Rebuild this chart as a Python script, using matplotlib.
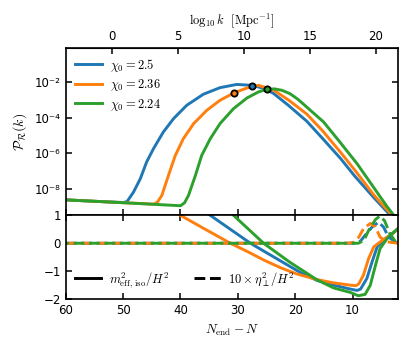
import numpy as np
import matplotlib
matplotlib.use("Agg")
import matplotlib.pyplot as plt

plt.rcParams["mathtext.fontset"] = "cm"
plt.rcParams["font.size"] = 8.5

# ---------------------------------------------------------------------------
# Data (x = N_end - N)
# ---------------------------------------------------------------------------
labels = [r"$\chi_0 = 2.5$", r"$\chi_0 = 2.36$", r"$\chi_0 = 2.24$"]
colors = ["#1f77b4", "#ff7f0e", "#2ca02c"]

# power spectrum, log10 P_R
blue_N = [60, 55, 49.9, 49.3, 48.2, 47.0, 45.9, 44.7, 43.0, 41.2, 38.9, 36.0,
          33.1, 30.2, 27.5, 25.5, 23.8, 21.2, 18.0, 15.3, 12.1, 9.6, 6.3,
          3.4, 2.0]
blue_logP = [-8.63, -8.71, -8.78, -8.72, -8.2, -7.44, -6.5, -5.75, -4.82, -4.06,
             -3.31, -2.69, -2.32, -2.14, -2.19, -2.36, -2.64, -3.31, -4.2,
             -5.15, -6.3, -7.3, -8.5, -9.5, -9.95]
orange_N = [60, 50, 44.6, 44.0, 43.25, 42.1, 40.9, 39.5, 37.7, 35.4, 33.1, 30.6,
            28.4, 26.4, 23.8, 21.1, 18.0, 15.3, 12.1, 9.5, 6.3, 3.1, 2.0]
orange_logP = [-8.63, -8.79, -8.87, -8.75, -8.38, -7.26, -6.13, -5.19, -4.34,
               -3.59, -3.03, -2.6, -2.34, -2.19, -2.45, -3.03, -3.8, -4.72,
               -5.95, -7.0, -8.35, -9.5, -9.9]
green_N = [60, 50, 40.0, 39.3, 38.6, 37.4, 36.3, 34.8, 33.1, 30.75, 28.4, 26.4,
           24.9, 23.6, 22.3, 20.9, 19.5, 18.2, 15.05, 12.4, 9.2, 6.6, 4.0,
           2.8, 2.0]
green_logP = [-8.63, -8.79, -8.96, -8.8, -8.38, -7.26, -6.13, -5.19, -4.34, -3.5,
              -2.9, -2.56, -2.41, -2.39, -2.47, -2.66, -2.98, -3.35, -4.25,
              -5.3, -6.6, -7.8, -9.0, -9.5, -9.85]

# markers on the spectra
dot_N = [27.5, 30.6, 24.9]
dot_logP = [-2.20, -2.62, -2.41]

# m_eff^2 / H^2
blue_m_N = [45, 34.8, 27.8, 22.0, 19.0, 16.2, 13.3, 10.4, 9.2, 8.6, 7.5, 6.6,
            5.7, 4.3, 2.0]
blue_m = [2.45, 1.0, 0.0, -0.7, -1.06, -1.33, -1.5, -1.64, -1.69, -1.64, -1.26,
          -0.67, -0.13, 0.16, 0.52]
orange_m_N = [45, 40, 35.5, 31.3, 28, 25.5, 22.5, 19.7, 16.2, 13.3, 10.4, 9.4,
              8.9, 8.1, 7.2, 6.3, 4.85, 3.4, 2.0]
orange_m = [1.6, 1.0, 0.48, 0.0, -0.33, -0.6, -0.88, -1.1, -1.3, -1.42, -1.5,
            -1.52, -1.45, -1.14, -0.55, -0.13, 0.1, 0.29, 0.52]
green_m_N = [40, 30.75, 25.5, 21.0, 16.2, 13.3, 10.4, 9.0, 7.8, 6.9, 6.0, 5.2,
             4.0, 2.0]
green_m = [2.8, 1.0, 0.0, -0.67, -1.31, -1.6, -1.76, -1.88, -1.83, -1.5, -0.79,
           -0.19, 0.16, 0.55]

# 10 x eta_perp^2 / H^2
blue_eta_N = [60, 9.6, 8.6, 7.8, 6.6, 5.45, 4.6, 3.7, 2.4, 2.0]
blue_eta = [0, 0, 0.08, 0.29, 0.58, 0.76, 0.58, 0.22, 0.03, 0]
orange_eta_N = [60, 11.0, 9.8, 8.9, 8.1, 6.9, 6.0, 5.2, 4.0, 2.0]
orange_eta = [0, 0, 0.03, 0.22, 0.52, 0.71, 0.58, 0.22, 0.05, 0]
green_eta_N = [60, 9.0, 8.0, 7.2, 6.0, 5.2, 4.4, 3.5, 2.5, 2.0]
green_eta = [0, 0, 0.1, 0.46, 0.85, 0.98, 0.8, 0.35, 0.05, 0]

p_N = [blue_N, orange_N, green_N]
p_logP = [blue_logP, orange_logP, green_logP]
m_N = [blue_m_N, orange_m_N, green_m_N]
m_val = [blue_m, orange_m, green_m]
eta_N = [blue_eta_N, orange_eta_N, green_eta_N]
eta_val = [blue_eta, orange_eta, green_eta]

N_k0 = 52.0   # N_end - N where log10 k = 0

# ---------------------------------------------------------------------------
fig = plt.figure(figsize=(4.11, 3.49), dpi=100)
gs = fig.add_gridspec(2, 1, height_ratios=[2, 1], hspace=0.0,
                      left=0.160, right=0.968, bottom=0.143, top=0.863)
ax1 = fig.add_subplot(gs[0])
ax2 = fig.add_subplot(gs[1], sharex=ax1)

lw = 2.1
for i in range(3):
    ax1.plot(p_N[i], 10.0 ** np.asarray(p_logP[i]), color=colors[i], lw=lw,
             label=labels[i])
for i in range(3):
    ax1.plot(dot_N[i], 10.0 ** dot_logP[i], "o", color=colors[i], ms=4.5,
             mec="k", mew=1.3, zorder=5)

ax1.set_yscale("log")
ax1.set_ylim(10 ** -9.5, 10 ** -0.08)
ax1.set_yticks([1e-8, 1e-6, 1e-4, 1e-2])
ax1.set_yticklabels(["10\u207b\u2078", "10\u207b\u2076", "10\u207b\u2074",
                     "10\u207b\u00b2"])
ax1.yaxis.set_minor_locator(matplotlib.ticker.NullLocator())
ax1.set_ylabel(r"$\mathcal{P}_\mathcal{R}(k)$", fontsize=10)
ax1.tick_params(axis="x", labelbottom=False)
ax1.legend(loc="upper left", frameon=False, fontsize=9, handlelength=2.2,
           labelspacing=0.28, borderaxespad=0.3, handletextpad=0.6)

sec = ax1.secondary_xaxis(
    "top",
    functions=(lambda n: (N_k0 - n) / np.log(10), lambda lk: N_k0 - lk * np.log(10)))
sec.set_xticks([0, 5, 10, 15, 20])
sec.tick_params(direction="in", length=4, width=1.1)
sec.set_xlabel(r"$\log_{10}k\ \ [\mathrm{Mpc}^{-1}]$", fontsize=9, labelpad=4)

# lower panel
for i in range(3):
    ax2.plot(m_N[i], m_val[i], color=colors[i], lw=lw)
dash_offsets = [0, 0, 2.65]
for i in range(3):
    ax2.plot(eta_N[i], eta_val[i], color=colors[i], lw=lw,
             ls=(dash_offsets[i], (3.7, 1.6)))
ax2.plot([], [], "k-", lw=lw, label=r"$m^2_{\rm eff,\, iso}/H^2$")
ax2.plot([], [], "k--", lw=lw, label=r"$10\times\eta_\perp^2/H^2$")
ax2.legend(loc="lower left", ncol=2, frameon=False, fontsize=9,
           handlelength=2.1, columnspacing=2.0, borderaxespad=0.35,
           handletextpad=0.6)
ax2.set_ylim(-2, 1)
ax2.set_yticks([-2, -1, 0, 1])
ax2.set_xlim(60, 2.1)
ax2.set_xticks([60, 50, 40, 30, 20, 10])
ax2.set_xlabel(r"$N_{\rm end} - N$", fontsize=9.5)

for ax in (ax1, ax2):
    ax.tick_params(direction="in", length=4, width=1.1, top=(ax is ax2),
                   right=True)
    for s in ax.spines.values():
        s.set_linewidth(1.2)
ax1.tick_params(top=False)

fig.savefig("out.png", dpi=100)
